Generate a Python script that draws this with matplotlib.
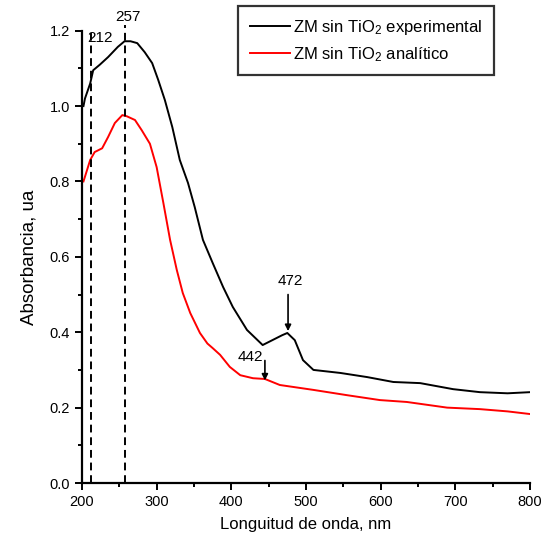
import matplotlib
matplotlib.use("Agg")
import matplotlib.pyplot as plt

plt.rcParams['font.family'] = ['Liberation Sans', 'DejaVu Sans']
plt.rcParams['mathtext.fontset'] = 'custom'
plt.rcParams['mathtext.rm'] = 'Liberation Sans'
plt.rcParams['mathtext.it'] = 'Liberation Sans'

# experimental spectrum (black)
exp_wl = [202, 204, 211, 215, 224, 235, 248, 257, 265, 274, 284, 294, 302, 311,
          321, 331, 342, 351, 362, 375, 389, 402, 421, 442, 461, 468, 475, 485,
          496, 510, 546, 582, 617, 653, 697, 733, 770, 800]
exp_abs = [1.00, 1.02, 1.06, 1.095, 1.11, 1.13, 1.157, 1.172, 1.172, 1.167, 1.143,
           1.114, 1.07, 1.016, 0.944, 0.857, 0.796, 0.732, 0.645, 0.584, 0.52, 0.467,
           0.406, 0.366, 0.385, 0.392, 0.398, 0.379, 0.326, 0.30, 0.292, 0.281, 0.268,
           0.265, 0.249, 0.241, 0.238, 0.241]

# analytic spectrum (red)
ana_wl = [202, 211, 217, 227, 235, 244, 254, 260, 271, 280, 291, 300, 309, 318,
          327, 335, 345, 358, 368, 375, 385, 398, 412, 429, 445, 465, 510, 555,
          599, 635, 689, 733, 770, 800]
ana_abs = [0.80, 0.857, 0.878, 0.888, 0.918, 0.955, 0.976, 0.973, 0.963, 0.936, 0.90,
           0.838, 0.743, 0.645, 0.565, 0.504, 0.451, 0.398, 0.37, 0.358, 0.34, 0.308,
           0.286, 0.278, 0.276, 0.26, 0.247, 0.233, 0.22, 0.215, 0.20, 0.196, 0.19,
           0.183]

labels = ['ZM sin TiO$_2$ experimental', 'ZM sin TiO$_2$ analítico']
xticks = [200, 300, 400, 500, 600, 700, 800]
yticks = [0.0, 0.2, 0.4, 0.6, 0.8, 1.0, 1.2]

fig = plt.figure(figsize=(5.44, 5.48), dpi=100)
ax = fig.add_axes([0.1507, 0.1186, 0.8235, 0.8254])

ax.plot(exp_wl, exp_abs, color='black', lw=1.4, label=labels[0])
ax.plot(ana_wl, ana_abs, color='red', lw=1.4, label=labels[1])

# peak markers
dash = (0, (4, 2.5))
ax.plot([212, 212], [0, 1.195], color='black', lw=1.4, ls=dash)
ax.plot([257, 257], [0, 1.215], color='black', lw=1.4, ls=dash, clip_on=False)
ax.text(224.5, 1.18, '212', ha='center', va='center', fontsize=11)
ax.text(261, 1.235, '257', ha='center', va='center', fontsize=11, clip_on=False)

arrow = dict(arrowstyle='-|>', color='black', lw=1.2, mutation_scale=9,
             shrinkA=0, shrinkB=0)
ax.annotate('', xy=(476, 0.403), xytext=(476, 0.50), arrowprops=arrow)
ax.text(479, 0.537, '472', ha='center', va='center', fontsize=11)
ax.annotate('', xy=(445, 0.272), xytext=(445, 0.325), arrowprops=arrow)
ax.text(426, 0.334, '442', ha='center', va='center', fontsize=11)

ax.set_xlim(200, 800)
ax.set_ylim(0, 1.2)
ax.set_xticks(xticks)
ax.set_xticks(range(250, 800, 100), minor=True)
ax.set_yticks(yticks)
ax.set_yticklabels([f'{v:.1f}' for v in yticks])
ax.set_yticks([0.1, 0.3, 0.5, 0.7, 0.9, 1.1], minor=True)
ax.tick_params(which='major', direction='out', length=5, width=1.4, labelsize=10.5)
ax.tick_params(which='minor', direction='out', length=3, width=1.4)
for s in ['top', 'right']:
    ax.spines[s].set_visible(False)
for s in ['left', 'bottom']:
    ax.spines[s].set_linewidth(1.6)

ax.set_xlabel('Longuitud de onda, nm', fontsize=12, labelpad=6)
ax.set_ylabel('Absorbancia, ua', fontsize=13.5, labelpad=9)

leg = ax.legend(loc='upper left', bbox_to_anchor=(238 / 544, 1 - 6 / 548),
                bbox_transform=fig.transFigure, fontsize=12, frameon=True,
                fancybox=False, edgecolor='black', handlelength=2.4,
                handletextpad=0.2, borderpad=0.7, labelspacing=0.5,
                borderaxespad=0)
leg.get_frame().set_linewidth(1.6)

fig.savefig('out.png', dpi=100)
